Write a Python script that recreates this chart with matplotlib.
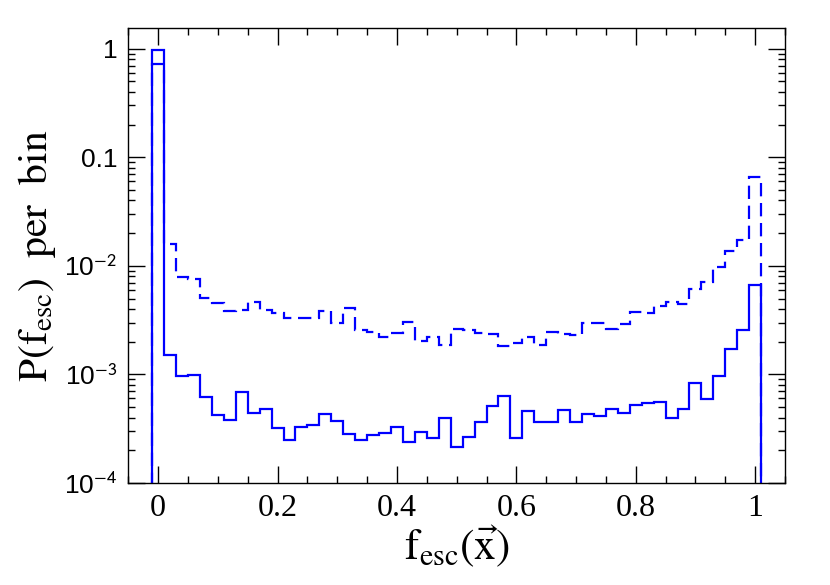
import numpy as np
import matplotlib
matplotlib.use("Agg")
import matplotlib.pyplot as plt
from matplotlib.ticker import FixedLocator, FixedFormatter, LogLocator, NullFormatter, MultipleLocator

plt.rcParams['mathtext.fontset'] = 'stix'

# bin edges: width 0.02, centred on 0, 0.02, ..., 1.0
bin_edges = np.round(np.arange(-0.01, 1.0101, 0.02), 4)

# solid histogram
p_solid = [0.97, 1.51e-3, 9.66e-4, 9.9e-4, 6.24e-4, 4.23e-4, 3.8e-4, 6.93e-4, 4.38e-4, 4.77e-4,
           3.19e-4, 2.49e-4, 3.26e-4, 3.42e-4, 4.35e-4, 3.75e-4, 2.84e-4, 2.49e-4, 2.77e-4, 2.9e-4,
           3.28e-4, 2.37e-4, 2.97e-4, 2.58e-4, 4.0e-4, 2.16e-4, 2.65e-4, 3.67e-4, 5.08e-4, 6.32e-4,
           2.6e-4, 4.63e-4, 3.65e-4, 3.65e-4, 4.7e-4, 3.67e-4, 4.29e-4, 4.14e-4, 4.77e-4, 4.44e-4,
           5.19e-4, 5.45e-4, 5.6e-4, 3.94e-4, 4.8e-4, 8.39e-4, 5.94e-4, 9.73e-4, 1.7e-3, 2.56e-3,
           6.6e-3]

# dashed histogram
p_dashed = [0.72, 1.59e-2, 7.94e-3, 7.55e-3, 5.09e-3, 4.52e-3, 3.81e-3, 3.92e-3, 4.6e-3, 3.92e-3,
            3.65e-3, 3.3e-3, 3.29e-3, 3.31e-3, 3.86e-3, 2.99e-3, 4.06e-3, 2.56e-3, 2.47e-3, 2.2e-3,
            2.39e-3, 3.06e-3, 2.05e-3, 2.2e-3, 1.85e-3, 2.6e-3, 2.54e-3, 2.39e-3, 2.36e-3, 1.83e-3,
            1.95e-3, 2.22e-3, 1.87e-3, 2.44e-3, 2.36e-3, 2.31e-3, 2.99e-3, 2.95e-3, 2.6e-3, 2.93e-3,
            3.78e-3, 3.65e-3, 4.27e-3, 4.66e-3, 4.42e-3, 6.08e-3, 7.05e-3, 9.8e-3, 1.38e-2, 1.73e-2,
            6.6e-2]

x_ticks = [0, 0.2, 0.4, 0.6, 0.8, 1]
x_tick_labels = ['0', '0.2', '0.4', '0.6', '0.8', '1']
y_ticks = [1e-4, 1e-3, 1e-2, 0.1, 1]
y_tick_labels = [r'10$^{\mathsf{-4}}$', r'10$^{\mathsf{-3}}$', r'10$^{\mathsf{-2}}$', '0.1', '1']

fig = plt.figure(figsize=(8.3, 5.85), dpi=100)
ax = fig.add_axes([0.1546, 0.1744, 0.7912, 0.7777])

blue = '#0000ff'
ax.stairs(p_dashed, bin_edges, baseline=1e-6, color=blue, lw=1.6, linestyle=(0, (6, 3)))
ax.stairs(p_solid, bin_edges, baseline=1e-6, color=blue, lw=1.6)

ax.set_yscale('log')
ax.set_xlim(-0.05, 1.05)
ax.set_ylim(1e-4, 1.55)

ax.xaxis.set_major_locator(FixedLocator(x_ticks))
ax.xaxis.set_major_formatter(FixedFormatter(x_tick_labels))
ax.xaxis.set_minor_locator(MultipleLocator(0.05))
ax.yaxis.set_major_locator(FixedLocator(y_ticks))
ax.yaxis.set_major_formatter(FixedFormatter(y_tick_labels))
ax.yaxis.set_minor_locator(LogLocator(base=10, subs=np.arange(2, 10), numticks=20))
ax.yaxis.set_minor_formatter(NullFormatter())

ax.tick_params(which='both', direction='in', top=True, right=True, width=1.0)
ax.tick_params(which='major', length=12)
ax.tick_params(which='minor', length=5)
ax.tick_params(axis='x', pad=8)
ax.tick_params(axis='y', pad=8)
for lab in ax.get_xticklabels():
    lab.set_fontfamily('Liberation Serif')
    lab.set_fontsize(23)
for lab in ax.get_yticklabels():
    lab.set_fontfamily('Liberation Sans')
    lab.set_fontsize(19)
for sp in ax.spines.values():
    sp.set_linewidth(1.0)

ax.set_xlabel(r'$\mathrm{f_{esc}(\vec{x})}$', fontsize=31, labelpad=0)
ax.set_ylabel(r'$\mathrm{P(f_{esc})\ \ per\ \ bin}$', fontsize=30, labelpad=4)

fig.savefig('out.png', dpi=100)
